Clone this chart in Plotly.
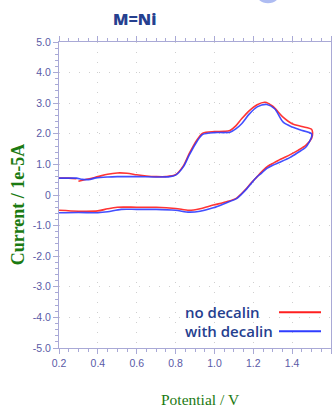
import plotly.graph_objects as go

# Cyclic voltammograms, M = Ni (potential in V, current in 1e-5 A)
# "no decalin": first sweep from 0.30 V, closing piece from 0.20 V
red_v = [0.30, 0.35, 0.40, 0.45, 0.50, 0.55, 0.60, 0.65, 0.70, 0.75, 0.80, 0.84, 0.87,
         0.91, 0.94, 1.00, 1.05, 1.08, 1.11, 1.14, 1.18, 1.22, 1.26, 1.30, 1.35, 1.40,
         1.45, 1.50, 1.505, 1.50, 1.47, 1.43, 1.39, 1.34, 1.30, 1.27, 1.24, 1.22, 1.19,
         1.166, 1.14, 1.114, 1.063, 0.994, 0.926, 0.87, 0.80, 0.70, 0.60, 0.50, 0.45,
         0.40, 0.30, 0.20, None, 0.20, 0.25, 0.29]
red_i = [0.45, 0.52, 0.60, 0.68, 0.72, 0.71, 0.66, 0.62, 0.60, 0.60, 0.66, 0.95, 1.35,
         1.80, 2.02, 2.07, 2.08, 2.11, 2.26, 2.49, 2.76, 2.95, 3.03, 2.90, 2.56, 2.33,
         2.24, 2.15, 2.05, 1.85, 1.62, 1.46, 1.32, 1.17, 1.03, 0.92, 0.74, 0.60, 0.40,
         0.22, 0.05, -0.10, -0.22, -0.33, -0.45, -0.50, -0.44, -0.40, -0.40, -0.40, -0.45,
         -0.52, -0.53, -0.50, None, 0.55, 0.55, 0.53]

# "with decalin"
blue_v = [0.20, 0.25, 0.29, 0.32, 0.36, 0.39, 0.45, 0.50, 0.60, 0.70, 0.77, 0.80, 0.84,
          0.87, 0.91, 0.94, 1.00, 1.05, 1.08, 1.11, 1.14, 1.18, 1.22, 1.27, 1.31, 1.354,
          1.40, 1.44, 1.50, 1.50, 1.47, 1.43, 1.39, 1.34, 1.30, 1.27, 1.24, 1.217, 1.19,
          1.166, 1.14, 1.114, 1.063, 0.994, 0.926, 0.87, 0.80, 0.70, 0.60, 0.52, 0.45,
          0.40, 0.30, 0.20]
blue_i = [0.55, 0.55, 0.55, 0.51, 0.51, 0.56, 0.59, 0.60, 0.60, 0.59, 0.60, 0.65, 0.92,
          1.30, 1.75, 1.98, 2.04, 2.04, 2.05, 2.16, 2.33, 2.65, 2.88, 2.96, 2.82, 2.38,
          2.22, 2.13, 2.00, 1.90, 1.56, 1.39, 1.23, 1.08, 0.97, 0.87, 0.70, 0.58, 0.38,
          0.20, 0.03, -0.12, -0.25, -0.42, -0.53, -0.56, -0.50, -0.47, -0.47, -0.47, -0.55,
          -0.58, -0.57, -0.58]

x_ticks = [0.2, 0.4, 0.6, 0.8, 1.0, 1.2, 1.4, 1.6]
x_labels = ["0.2", "0.4", "0.6", "0.8", "1.0", "1.2", "1.4", "1.6"]
y_ticks = [5, 4, 3, 2, 1, 0, -1, -2, -3, -4, -5]
y_labels = ["5.0", "4.0", "3.0", "2.0", "1.0", "0", "-1.0", "-2.0", "-3.0", "-4.0", "-5.0"]

series_names = ["no decalin", "with decalin"]
series_colors = ["#ff1f1f", "#2f3dff"]

AXIS = "#a9a9d6"
TICKFONT = dict(family="Liberation Sans Narrow, Arial Narrow, sans-serif", size=10.5, color="#5a5aa6")
GREEN = "#1b7a12"
NAVY = "#25408f"

fig = go.Figure()
fig.add_trace(go.Scatter(x=red_v, y=red_i, mode="lines", name=series_names[0],
                         line=dict(color=series_colors[0], width=1.6, shape="spline", smoothing=0.8),
                         connectgaps=False, opacity=0.9))
fig.add_trace(go.Scatter(x=blue_v, y=blue_i, mode="lines", name=series_names[1],
                         line=dict(color=series_colors[1], width=1.6, shape="spline", smoothing=0.8),
                         connectgaps=False, opacity=0.9))

axis_common = dict(
    showline=True, linecolor=AXIS, linewidth=1, mirror="ticks",
    ticks="outside", ticklen=5, tickcolor=AXIS, tickwidth=1,
    showgrid=True, gridcolor="#cfcfcf", griddash="1px,9px", gridwidth=1,
    zeroline=False, tickfont=TICKFONT, automargin=False,
)

fig.update_xaxes(range=[0.2, 1.6], tickvals=x_ticks, ticktext=x_labels,
                 minor=dict(dtick=0.05, tick0=0.2, ticks="outside", ticklen=3,
                            tickcolor=AXIS, showgrid=False),
                 **axis_common)
fig.update_yaxes(range=[-5, 5], tickvals=y_ticks, ticktext=y_labels,
                 minor=dict(dtick=0.2, tick0=0, ticks="outside", ticklen=3,
                            tickcolor=AXIS, showgrid=False),
                 **axis_common)

# pixel -> paper helpers for the 332x409 page
L, R, T, B = 59, 331, 41.7, 347.7
def px(x):
    return (x - L) / (R - L)
def py(y):
    return (B - y) / (B - T)

annotations = [
    dict(text="M=Ni", x=px(134), y=py(19), xref="paper", yref="paper",
         xanchor="center", yanchor="middle", showarrow=False,
         font=dict(family="Open Sans, sans-serif", size=16, weight=800, color=NAVY)),
    dict(text="<b>Current / 1e-5A</b>", x=px(18), y=py(204), xref="paper", yref="paper",
         xanchor="center", yanchor="middle", textangle=-90, showarrow=False,
         font=dict(family="Liberation Serif, Times New Roman, serif", size=18, color=GREEN)),
    dict(text="Potential / V", x=px(200), y=py(399), xref="paper", yref="paper",
         xanchor="center", yanchor="middle", showarrow=False,
         font=dict(family="Liberation Serif, Times New Roman, serif", size=15.5, color=GREEN)),
]
# legend: label on the left, line sample on the right
legend_rows = [312, 331]
shapes = [
    dict(type="circle", xref="paper", yref="paper", x0=px(254.5), x1=px(281.5),
         y0=py(3), y1=py(-24), fillcolor="#aebcf2", line=dict(width=0), layer="above"),
]
for name, color, yrow in zip(series_names, series_colors, legend_rows):
    annotations.append(dict(text=name, x=px(183), y=py(yrow), xref="paper", yref="paper",
                            xanchor="left", yanchor="middle", showarrow=False,
                            font=dict(family="Open Sans, sans-serif", size=15, weight=600, color=NAVY)))
    shapes.append(dict(type="line", xref="paper", yref="paper", x0=px(279), x1=px(321),
                       y0=py(yrow), y1=py(yrow), line=dict(color=color, width=2)))

fig.update_layout(
    width=332, height=409,
    margin=dict(l=L, r=332 - R, t=T, b=409 - B),
    paper_bgcolor="white", plot_bgcolor="white",
    showlegend=False,
    annotations=annotations, shapes=shapes,
    template="none",
)

fig.write_html("out.html")
